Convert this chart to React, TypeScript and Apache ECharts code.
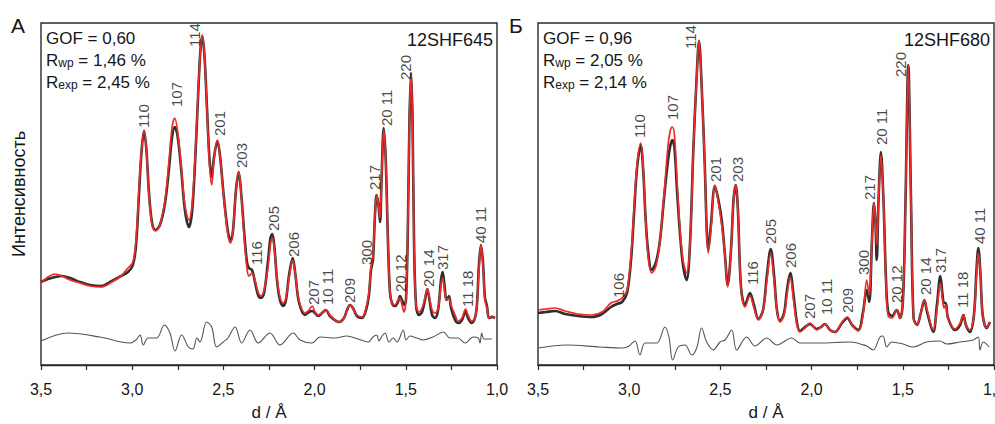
import { useEffect, useRef } from 'react';
import * as echarts from 'echarts';

// ---------- Panel А (12SHF645) ----------
const dA = [
  3.500, 3.462, 3.423, 3.385, 3.341, 3.286, 3.231, 3.171, 3.111, 3.061,
  3.023, 2.996, 2.979, 2.963, 2.949, 2.935, 2.922, 2.908, 2.891, 2.873,
  2.848, 2.820, 2.798, 2.782, 2.767, 2.752, 2.732, 2.711, 2.689, 2.672,
  2.656, 2.639, 2.626, 2.616, 2.604, 2.590, 2.576, 2.564, 2.552, 2.533,
  2.519, 2.497, 2.475, 2.460, 2.447, 2.431, 2.416, 2.404, 2.387, 2.371,
  2.360, 2.343, 2.327, 2.310, 2.294, 2.277, 2.256, 2.242, 2.232, 2.220,
  2.206, 2.190, 2.172, 2.157, 2.140, 2.120, 2.105, 2.086, 2.053, 2.031,
  2.013, 1.998, 1.980, 1.959, 1.938, 1.916, 1.866, 1.839, 1.822, 1.806,
  1.790, 1.768, 1.740, 1.718, 1.702, 1.691, 1.680, 1.669, 1.660, 1.650,
  1.641, 1.633, 1.621, 1.610, 1.598, 1.587, 1.576, 1.559, 1.543, 1.532,
  1.521, 1.510, 1.499, 1.488, 1.480, 1.471, 1.463, 1.455, 1.444, 1.428,
  1.411, 1.395, 1.382, 1.370, 1.356, 1.340, 1.323, 1.307, 1.298, 1.288,
  1.277, 1.263, 1.252, 1.230, 1.212, 1.192, 1.172, 1.159, 1.139, 1.121,
  1.110, 1.099, 1.088, 1.077, 1.066, 1.055, 1.044, 1.027, 1.011,
];
const calcA = [
  82, 88, 91, 89, 85, 82, 79, 78, 83, 89,
  97, 103, 125, 175, 215, 235, 215, 170, 140, 134,
  140, 165, 205, 237, 247, 235, 200, 160, 145, 160,
  205, 270, 315, 330, 310, 255, 200, 180, 205, 225,
  210, 165, 130, 122, 135, 175, 193, 175, 130, 97,
  89, 92, 85, 73, 69, 75, 97, 120, 127, 115,
  87, 68, 62, 67, 87, 105, 90, 65, 52, 55,
  59, 53, 50, 52, 55, 50, 43, 47, 55, 60,
  57, 50, 48, 57, 73, 97, 110, 150, 170, 160,
  147, 185, 235, 205, 125, 75, 62, 60, 65, 67,
  60, 53, 65, 145, 245, 292, 245, 125, 60, 53,
  57, 67, 76, 67, 55, 52, 57, 80, 87, 75,
  65, 67, 60, 50, 44, 47, 56, 50, 44, 47,
  60, 95, 120, 100, 65, 57, 47, 49, 47,
];
const obsA = [
  83, 86, 88, 89, 87, 83, 80, 79, 84, 89,
  93, 100, 120, 170, 213, 234, 215, 172, 142, 135,
  140, 162, 197, 227, 238, 230, 197, 155, 138, 153,
  200, 268, 315, 329, 310, 257, 205, 188, 207, 224,
  210, 167, 133, 124, 135, 175, 193, 175, 135, 103,
  97, 95, 83, 70, 67, 72, 103, 127, 131, 117,
  85, 65, 59, 65, 90, 107, 90, 63, 50, 53,
  54, 52, 49, 52, 55, 49, 43, 47, 55, 60,
  57, 49, 47, 55, 70, 95, 105, 150, 170, 160,
  143, 185, 237, 205, 125, 73, 62, 59, 63, 69,
  65, 60, 65, 145, 245, 292, 245, 125, 60, 50,
  53, 65, 76, 65, 50, 47, 55, 85, 93, 80,
  65, 69, 57, 45, 42, 45, 54, 47, 42, 47,
  60, 100, 120, 103, 67, 59, 47, 48, 47,
];
const diffDA = [
  3.500, 3.352, 3.177, 3.012, 2.979, 2.957, 2.939, 2.913, 2.866, 2.824,
  2.793, 2.765, 2.729, 2.692, 2.667, 2.645, 2.628, 2.592, 2.564, 2.537,
  2.501, 2.475, 2.436, 2.400, 2.354, 2.309, 2.245, 2.190, 2.117, 2.080,
  2.016, 1.970, 1.888, 1.824, 1.762, 1.706, 1.680, 1.660, 1.647, 1.630,
  1.614, 1.592, 1.570, 1.548, 1.514, 1.499, 1.477, 1.440, 1.406, 1.351,
  1.294, 1.258, 1.214, 1.175, 1.130, 1.103, 1.093, 1.084, 1.071, 1.029,
];
const diffA = [
  24, 32, 28, 22, 25, 30, 20, 27, 27, 40,
  32, 14, 30, 18, 16, 27, 23, 43, 38, 18,
  23, 27, 38, 22, 35, 22, 32, 20, 32, 25,
  22, 28, 27, 29, 26, 23, 28, 30, 24, 29,
  32, 23, 27, 23, 35, 25, 29, 27, 25, 28,
  33, 27, 27, 22, 28, 27, 22, 32, 26, 26,
];
const peakNamesA = ['110', '107', '114', '201', '203', '116', '205', '206', '207', '10 11', '209', '300', '217', '20 11', '20 12', '220', '20 14', '317', '11 18', '40 11'];
const peakDA = [2.939, 2.756, 2.656, 2.522, 2.400, 2.317, 2.226, 2.117, 2.007, 1.930, 1.806, 1.718, 1.674, 1.605, 1.528, 1.500, 1.377, 1.298, 1.163, 1.093];
const peakIA = [237, 258, 318, 229, 197, 100, 134, 108, 60, 60, 62, 100, 175, 239, 73, 285, 78, 95, 58, 122];
const statsA = ['0,60', '1,46', '2,45'];
const sampleA = '12SHF645';

// ---------- Panel Б (12SHF680) ----------
const dB = [
  3.500, 3.456, 3.407, 3.352, 3.281, 3.204, 3.149, 3.100, 3.067, 3.039,
  3.012, 2.990, 2.974, 2.957, 2.937, 2.924, 2.911, 2.897, 2.877, 2.853,
  2.831, 2.809, 2.787, 2.774, 2.764, 2.752, 2.738, 2.721, 2.705, 2.685,
  2.667, 2.649, 2.631, 2.617, 2.604, 2.588, 2.566, 2.552, 2.530, 2.513,
  2.493, 2.475, 2.460, 2.442, 2.428, 2.416, 2.404, 2.387, 2.365, 2.338,
  2.316, 2.292, 2.266, 2.245, 2.224, 2.206, 2.190, 2.173, 2.151, 2.135,
  2.117, 2.099, 2.080, 2.064, 2.036, 2.009, 1.972, 1.948, 1.927, 1.899,
  1.872, 1.833, 1.804, 1.778, 1.744, 1.718, 1.698, 1.684, 1.669, 1.658,
  1.650, 1.643, 1.633, 1.620, 1.606, 1.592, 1.580, 1.559, 1.533, 1.515,
  1.499, 1.485, 1.470, 1.455, 1.441, 1.422, 1.400, 1.382, 1.367, 1.333,
  1.313, 1.294, 1.282, 1.274, 1.265, 1.252, 1.214, 1.186, 1.168, 1.154,
  1.132, 1.110, 1.096, 1.086, 1.074, 1.062, 1.040, 1.022,
];
const calcB = [
  55, 56, 57, 54, 51, 50, 53, 62, 64, 67,
  75, 110, 155, 200, 222, 200, 150, 110, 92, 99,
  125, 170, 220, 235, 238, 230, 185, 135, 105, 92,
  120, 212, 285, 325, 285, 212, 112, 135, 180, 165,
  140, 110, 78, 115, 165, 180, 155, 78, 58, 69,
  57, 45, 55, 85, 112, 85, 55, 43, 50, 70,
  88, 65, 40, 33, 37, 42, 35, 38, 41, 35,
  33, 43, 48, 40, 34, 50, 85, 70, 125, 162,
  145, 120, 165, 210, 165, 80, 49, 47, 55, 47,
  65, 165, 300, 165, 47, 40, 53, 65, 55, 35,
  55, 82, 65, 57, 60, 47, 36, 42, 50, 40,
  35, 50, 90, 112, 90, 50, 37, 43,
];
const obsB = [
  52, 53, 54, 51, 49, 48, 51, 58, 61, 63,
  72, 105, 150, 197, 220, 197, 150, 115, 95, 103,
  125, 167, 205, 220, 225, 217, 175, 130, 100, 85,
  120, 212, 285, 324, 285, 212, 115, 140, 179, 167,
  145, 110, 80, 115, 165, 180, 155, 78, 60, 72,
  60, 46, 55, 90, 116, 90, 55, 44, 52, 75,
  92, 70, 42, 34, 38, 41, 36, 38, 41, 35,
  33, 42, 47, 40, 35, 53, 75, 63, 125, 162,
  143, 105, 165, 213, 165, 85, 53, 49, 55, 47,
  65, 165, 300, 165, 47, 40, 53, 65, 53, 33,
  60, 89, 70, 62, 62, 47, 35, 40, 50, 40,
  33, 50, 95, 117, 90, 50, 37, 43,
];
const diffDB = [
  3.498, 3.343, 3.160, 3.032, 3.001, 2.968, 2.941, 2.913, 2.849, 2.804,
  2.782, 2.762, 2.731, 2.694, 2.657, 2.630, 2.603, 2.575, 2.539, 2.502,
  2.475, 2.438, 2.411, 2.356, 2.310, 2.246, 2.191, 2.109, 2.064, 1.954,
  1.790, 1.698, 1.663, 1.625, 1.609, 1.588, 1.561, 1.499, 1.444, 1.369,
  1.296, 1.259, 1.186, 1.114, 1.086, 1.077, 1.059, 1.026,
];
const diffB = [
  17, 20, 18, 17, 19, 24, 10, 22, 22, 38,
  28, 5, 18, 20, 10, 17, 37, 23, 15, 23,
  25, 35, 15, 28, 19, 27, 20, 27, 22, 22,
  23, 19, 15, 28, 29, 18, 23, 21, 18, 23,
  24, 21, 23, 25, 28, 15, 23, 18,
];
const peakNamesB = ['106', '110', '107', '114', '201', '203', '116', '205', '206', '207', '10 11', '209', '300', '217', '20 11', '20 12', '220', '20 14', '317', '11 18', '40 11'];
const peakDB = [3.060, 2.945, 2.764, 2.663, 2.526, 2.407, 2.323, 2.224, 2.115, 2.013, 1.921, 1.804, 1.713, 1.680, 1.616, 1.537, 1.512, 1.378, 1.296, 1.172, 1.081];
const peakIB = [67, 227, 245, 316, 183, 183, 80, 121, 97, 46, 50, 52, 90, 165, 220, 62, 288, 70, 92, 57, 121];
const statsB = ['0,96', '2,05', '2,14'];
const sampleB = '12SHF680';

const panelLetters = ['А', 'Б'];
const xTitle = 'd / Å';
const yTitle = 'Интенсивность';

const FONT = '"Liberation Sans", Arial, Helvetica, sans-serif';
const INK = '#161616';
const RED = '#ee2a2a';
const OBS = '#2e2e2e';
const DIFF = '#555555';

const pairs = (xs: number[], ys: number[]) => xs.map((x, i) => [x, ys[i]]);
const labelData = (names: string[], ds: number[], is: number[]) =>
  names.map((n, i) => ({ name: n, value: [ds[i], is[i]] }));

export default function App() {
  const ref = useRef<HTMLDivElement>(null);
  useEffect(() => {
    if (!ref.current) return;
    const chart = echarts.init(ref.current, null, { renderer: 'svg' });

    const grids = [
      { left: 41, top: 23, width: 456, height: 342 },
      { left: 538, top: 23, width: 456, height: 342 },
    ].map((g) => ({
      ...g,
      show: true,
      borderColor: '#2a2a2a',
      borderWidth: 1.4,
      backgroundColor: 'transparent',
      containLabel: false,
      outerBoundsMode: 'none',
    }));

    const xAxis = [0, 1].map((gi) => ({
      type: 'value',
      gridIndex: gi,
      min: 1.0,
      max: 3.5,
      interval: 0.5,
      inverse: true,
      name: xTitle,
      nameLocation: 'middle',
      nameGap: 39,
      nameTextStyle: { fontFamily: FONT, fontSize: 17, color: INK },
      axisLine: { show: true, onZero: false, lineStyle: { color: '#2a2a2a', width: 1.4 } },
      axisTick: { show: true, inside: false, length: 5, lineStyle: { color: '#2a2a2a', width: 1.2 } },
      minorTick: { show: true, splitNumber: 2, length: 5, lineStyle: { color: '#2a2a2a', width: 1.2 } },
      axisLabel: {
        show: true,
        margin: 16,
        fontFamily: FONT,
        fontSize: 16,
        color: INK,
        showMinLabel: true,
        showMaxLabel: true,
        formatter: (v: number) => v.toFixed(1).replace('.', ','),
      },
      splitLine: { show: false },
      minorSplitLine: { show: false },
    }));

    const yAxis = [0, 1].map((gi) => ({
      type: 'value',
      gridIndex: gi,
      min: 0,
      max: 342,
      name: gi === 0 ? yTitle : '',
      nameLocation: 'middle',
      nameGap: 13,
      nameTextStyle: { fontFamily: FONT, fontSize: 18, color: INK },
      axisLine: { show: false },
      axisTick: { show: false },
      axisLabel: { show: false },
      splitLine: { show: false },
    }));

    const lineSeries = (gi: number, data: number[][], color: string, width: number, z: number) => ({
      type: 'line',
      xAxisIndex: gi,
      yAxisIndex: gi,
      data,
      showSymbol: false,
      smooth: 0.35,
      lineStyle: { color, width },
      z,
      silent: true,
    });

    const labelSeries = (gi: number, data: any[]) => ({
      type: 'scatter',
      xAxisIndex: gi,
      yAxisIndex: gi,
      data,
      symbolSize: 1,
      itemStyle: { color: 'transparent' },
      z: 5,
      label: {
        show: true,
        position: 'inside',
        rotate: 90,
        align: 'left',
        verticalAlign: 'middle',
        formatter: '{b}',
        fontFamily: FONT,
        fontSize: 15,
        color: INK,
      },
    });

    const rich = {
      n: { fontSize: 17, fontFamily: FONT, fill: INK },
      s: { fontSize: 12, fontFamily: FONT, fill: INK, lineHeight: 6, verticalAlign: 'bottom' },
    };

    const statText = (x: number, stats: string[]) => [
      {
        type: 'text',
        x,
        y: 38,
        style: { text: `GOF = ${stats[0]}`, font: `17px ${FONT}`, fill: INK, verticalAlign: 'middle' },
      },
      {
        type: 'text',
        x,
        y: 60,
        style: { text: `{n|R}{s|wp}{n| = ${stats[1]} %}`, verticalAlign: 'middle', rich },
      },
      {
        type: 'text',
        x,
        y: 82,
        style: { text: `{n|R}{s|exp}{n| = ${stats[2]} %}`, verticalAlign: 'middle', rich },
      },
    ];

    const option: any = {
      animation: false,
      backgroundColor: '#fff',
      grid: grids,
      xAxis,
      yAxis,
      series: [
        lineSeries(0, pairs(dA, obsA), OBS, 2.6, 2),
        lineSeries(0, pairs(dA, calcA), RED, 1.7, 3),
        lineSeries(0, pairs(diffDA, diffA), DIFF, 1.1, 2),
        labelSeries(0, labelData(peakNamesA, peakDA, peakIA)),
        lineSeries(1, pairs(dB, obsB), OBS, 2.6, 2),
        lineSeries(1, pairs(dB, calcB), RED, 1.7, 3),
        lineSeries(1, pairs(diffDB, diffB), DIFF, 1.1, 2),
        labelSeries(1, labelData(peakNamesB, peakDB, peakIB)),
      ],
      graphic: [
        { type: 'text', x: 11, y: 25, style: { text: panelLetters[0], font: `21px ${FONT}`, fill: INK, verticalAlign: 'middle' } },
        { type: 'text', x: 509, y: 25, style: { text: panelLetters[1], font: `21px ${FONT}`, fill: INK, verticalAlign: 'middle' } },
        ...statText(46, statsA),
        ...statText(543, statsB),
        { type: 'text', x: 493, y: 40, style: { text: sampleA, font: `18px ${FONT}`, fill: INK, align: 'right', verticalAlign: 'middle' } },
        { type: 'text', x: 990, y: 40, style: { text: sampleB, font: `18px ${FONT}`, fill: INK, align: 'right', verticalAlign: 'middle' } },
      ],
    };
    chart.setOption(option);
    return () => chart.dispose();
  }, []);

  return (
    <div
      ref={ref}
      style={{ position: 'fixed', left: 0, top: 0, width: 995, height: 424, background: '#fff' }}
    />
  );
}
